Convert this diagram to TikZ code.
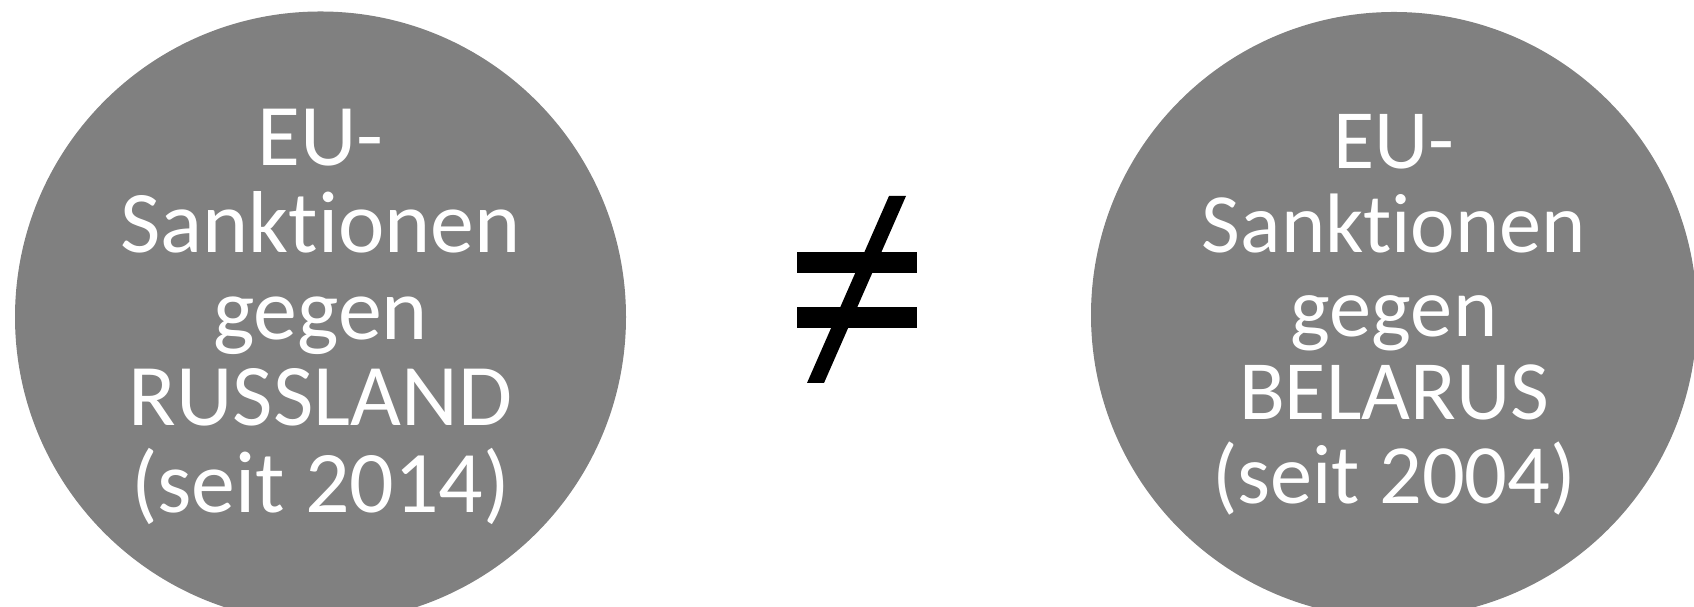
\documentclass[tikz,border=0pt]{standalone}
\usepackage{fontspec}
\setmainfont{Carlito}[Ligatures={NoCommon}]
\definecolor{sgrey}{RGB}{128,128,128}

\begin{document}
\begin{tikzpicture}[sanc/.style={circle,fill=sgrey,text=white,align=center,inner sep=0pt},
  bar/.style={fill=black,draw=none}]
\useasboundingbox (0,0) rectangle (16.94,6.07);
\node[sanc,minimum size=6.11cm,font=\fontsize{25}{24.7}\selectfont] (ru) at (3.205,2.9) {EU-\\Sanktionen\\gegen\\RUSSLAND\\(seit 2014)};
\node[sanc,minimum size=6.06cm,font=\fontsize{24}{23.8}\selectfont] (by) at (13.94,2.92) {EU-\\Sanktionen\\gegen\\BELARUS\\(seit 2004)};
% not-equal sign between the two
\coordinate (ne) at (8.57,3.17);
\fill[bar] (7.97,3.34) rectangle (9.17,3.55);\fill[bar] (7.97,2.79) rectangle (9.17,3.00);
\fill[bar] (8.89,4.11)--(9.06,4.11)--(8.24,2.24)--(8.07,2.24)--cycle;
\end{tikzpicture}
\end{document}
